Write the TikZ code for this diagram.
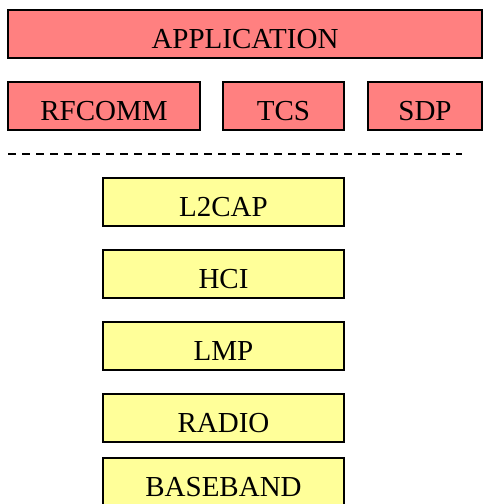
\documentclass[tikz,border=0pt]{standalone}
\usepackage{fontspec}
\setmainfont{Liberation Serif}
\definecolor{upper}{HTML}{FF8080}
\definecolor{lower}{HTML}{FFFF99}
\tikzstyle{layer}=[rectangle,draw=black,line width=1.5pt,minimum height=48pt,inner sep=0pt,
  font=\fontsize{29}{29}\selectfont,text height=28pt,text depth=0pt]
\tikzstyle{host}=[layer,fill=upper]
\tikzstyle{module}=[layer,fill=lower,minimum width=241pt]
\tikzstyle{split}=[draw,line width=2pt,dash pattern=on 8pt off 6pt]

\begin{document}
\begin{tikzpicture}[x=1pt,y=-1pt]
     \useasboundingbox (0,0) rectangle (483,504);

     \node[host,minimum width=474pt] (app) at (245,34) {APPLICATION};
     \foreach \pos/\w/\name/\txt in {{(104,106)/192/rfcomm/RFCOMM},
       {(283.5,106)/121/tcs/TCS}, {(425,106)/114/sdp/SDP}}
     \node[host,minimum width=\w pt] (\name) at \pos {\txt};

     \coordinate (cutl) at (8,154);
     \coordinate (cutr) at (462,154);
     \path[split] (cutl) -- (cutr);

     \foreach \y/\name/\txt in {202/l2cap/L2CAP, 274/hci/HCI, 346/lmp/LMP,
       418/radio/RADIO, 482/baseband/BASEBAND}
     \node[module] (\name) at (223.5,\y) {\txt};

   \end{tikzpicture}
\end{document}
